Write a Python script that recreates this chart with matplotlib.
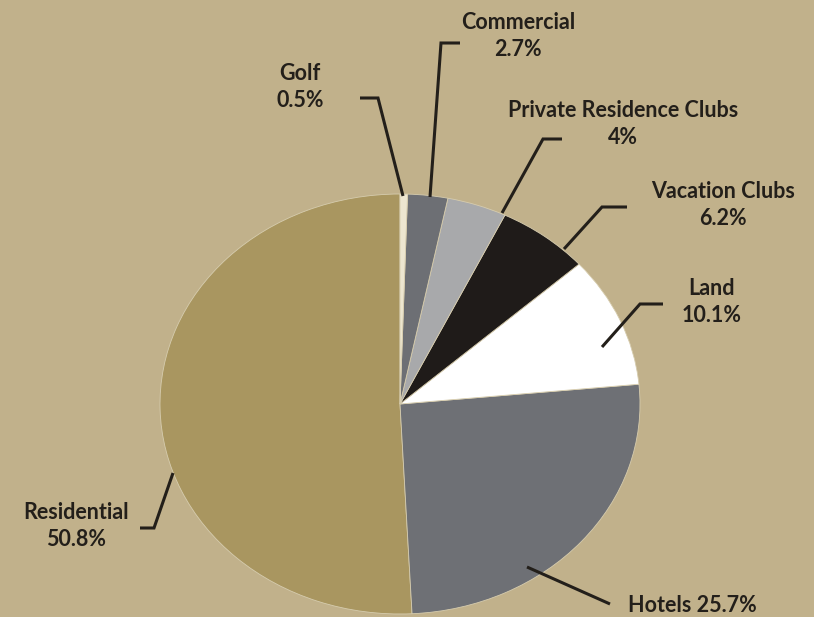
import numpy as np
import matplotlib
matplotlib.use("Agg")
from matplotlib import pyplot as plt

# datos del grafico (orden antihorario desde arriba)
categorias = ["Residential", "Hotels", "Land", "Vacation Clubs",
              "Private Residence Clubs", "Commercial", "Golf"]
valores = [50.8, 25.7, 10.1, 6.2, 4.0, 2.7, 0.5]
etiquetas = ["Residential\n50.8%", "Hotels 25.7%", "Land\n10.1%",
             "Vacation Clubs\n6.2%", "Private Residence Clubs\n4%",
             "Commercial\n2.7%", "Golf\n0.5%"]
colores = ["#a99660", "#6e7075", "#ffffff", "#1f1b19",
           "#a8a9ab", "#6d6f74", "#ede6d0"]

fondo = "#c1b18b"

# geometria en pixeles (centro y radios de la elipse)
W, H = 814, 617
cx, cy = 400, 404
rx, ry = 240, 210


def px(x, y):
    # convierte pixeles de la imagen a coordenadas del eje
    return (x - cx) / rx, (cy - y) / ry


# posiciones de texto y lineas guia (pixeles)
pos_texto = [(76, 526), (692, 605), (712, 302), (723, 205),
             (623, 124), (518, 36), (300, 87)]
guias = [
    [(140, 528), (154, 528), (173, 473)],
    [(527, 567), (610, 604)],
    [(663, 304), (640, 304), (602, 347)],
    [(627, 207), (602, 207), (564, 249)],
    [(562, 139), (543, 139), (502, 213)],
    [(460, 43), (441, 43), (430, 197)],
    [(360, 98), (378, 98), (403, 196)],
]

fig = plt.figure(figsize=(W / 100, H / 100), dpi=100)
fig.patch.set_facecolor(fondo)
ax = fig.add_axes([0, 0, 1, 1])
ax.set_facecolor(fondo)

cunas, _ = ax.pie(valores, colors=colores, startangle=90, counterclock=True,
                  radius=1, center=(0, 0),
                  wedgeprops=dict(edgecolor="#d6ccae", linewidth=0.6))

ax.set_aspect("auto")
x0, y0 = px(0, H)
x1, y1 = px(W, 0)
ax.set_xlim(x0, x1)
ax.set_ylim(y0, y1)
ax.axis("off")

for et, (tx, ty) in zip(etiquetas, pos_texto):
    x, y = px(tx, ty)
    ax.text(x, y, et, ha="center", va="center", fontsize=15.5,
            fontweight="bold", family="Lato", color="#231f1a",
            linespacing=1.35)

for g in guias:
    pts = np.array([px(a, b) for a, b in g])
    ax.plot(pts[:, 0], pts[:, 1], color="#231f1a", lw=2.2,
            solid_joinstyle="miter", solid_capstyle="butt")

fig.savefig("out.png", dpi=100, facecolor=fondo)
